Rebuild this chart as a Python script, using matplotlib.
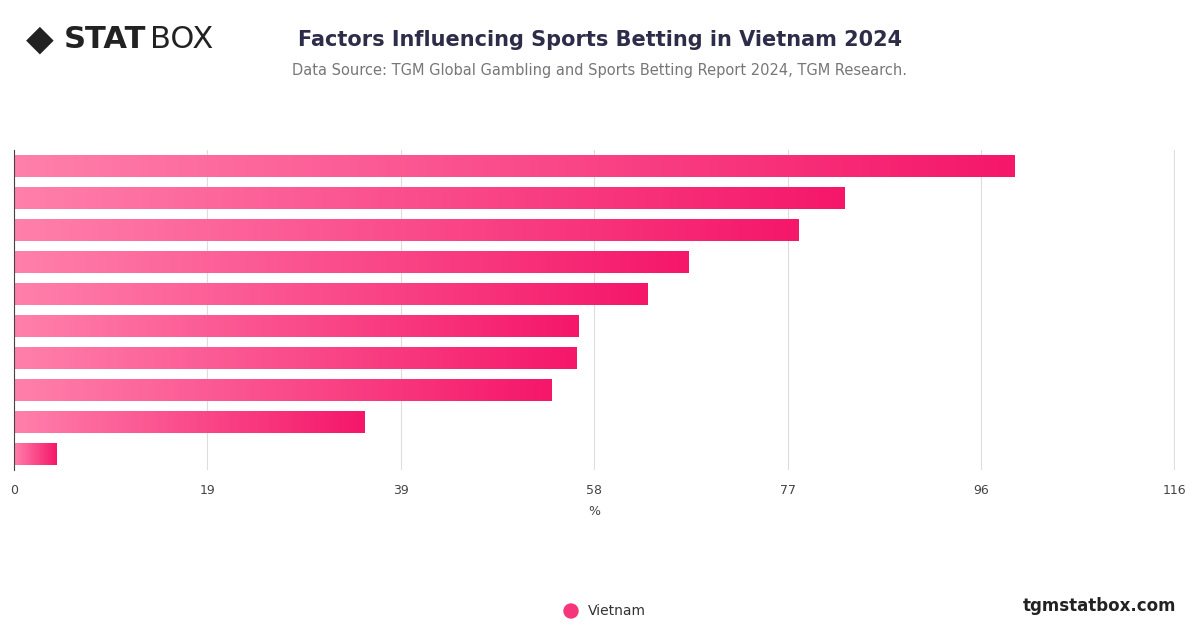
import matplotlib
matplotlib.use("Agg")
import matplotlib.pyplot as plt
import numpy as np
from matplotlib.colors import LinearSegmentedColormap
from matplotlib.patches import Ellipse

categories = ["Factor 1","Factor 2","Factor 3","Factor 4","Factor 5",
              "Factor 6","Factor 7","Factor 8","Factor 9","Factor 10"]
values = [100, 83, 78.4, 67.4, 63.3, 56.4, 56.2, 53.7, 35, 4.2]
tick_vals = [0, 19.33, 38.67, 58, 77.33, 96.67, 116]
tick_labels = ["0", "19", "39", "58", "77", "96", "116"]

fig = plt.figure(figsize=(12, 6.28), dpi=100)
ax = fig.add_axes([14/1200, 1-470/628, (1175-14)/1200, 320/628])
cmap = LinearSegmentedColormap.from_list("g", ["#ff80ab", "#f5176a"])
grad = np.linspace(0, 1, 256).reshape(1, -1)
n = len(values)
for i, v in enumerate(values):
    y = i
    bars = ax.barh(y, v, height=0.7, color="none", edgecolor="none")
    im = ax.imshow(grad, cmap=cmap, aspect="auto",
                   extent=[0, v, y + 0.35, y - 0.35], zorder=2)
    im.set_clip_path(bars[0])
ax.set_ylim(n - 0.5, -0.5)
ax.set_xlim(0, 116.05)
ax.set_xticks(tick_vals)
ax.set_xticklabels(tick_labels, fontsize=9, color="#444444")
ax.set_yticks([])
ax.grid(axis="x", color="#dddddd", linewidth=0.8, zorder=0)
ax.set_axisbelow(True)
for s in ["top", "right", "bottom"]:
    ax.spines[s].set_visible(False)
ax.spines["left"].set_color("#444444")
ax.tick_params(axis="x", length=0, pad=10)
ax.set_xlabel("%", fontsize=9, color="#444444", labelpad=6)

fig.text(600/1200, 1-40/628, "Factors Influencing Sports Betting in Vietnam 2024",
         ha="center", va="center", fontsize=15, fontweight="bold", color="#2d2d4a")
fig.text(600/1200, 1-71/628, "Data Source: TGM Global Gambling and Sports Betting Report 2024, TGM Research.",
         ha="center", va="center", fontsize=10.5, color="#777777")
fig.text(26/1200, 1-40/628, "◆", ha="left", va="center", fontsize=26, color="#222222")
fig.text(64/1200, 1-40/628, "STAT", ha="left", va="center", fontsize=22, fontweight="bold", color="#222222")
fig.text(150/1200, 1-40/628, "BOX", ha="left", va="center", fontsize=22, color="#222222")

fig.add_artist(Ellipse((571/1200, 1-611/628), 14/1200, 14/628, transform=fig.transFigure,
                       color="#f5367a"))
fig.text(588/1200, 1-611/628, "Vietnam", ha="left", va="center", fontsize=10, color="#333333")
fig.text(1176/1200, 1-606/628, "tgmstatbox.com", ha="right", va="center",
         fontsize=12, fontweight="bold", color="#222222")
fig.savefig("out.png", dpi=100)
